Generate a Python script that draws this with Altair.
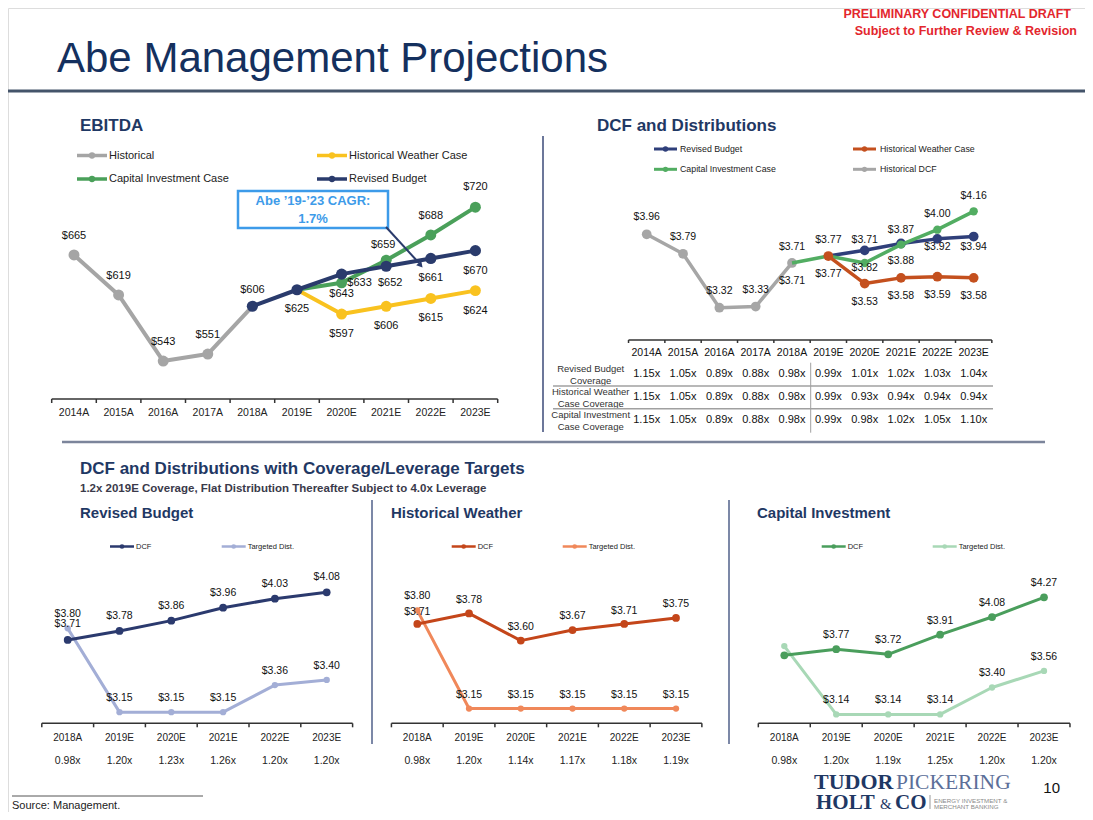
import altair as alt
import pandas as pd

# ---------------- values ----------------
years_long = ["2014A", "2015A", "2016A", "2017A", "2018A",
              "2019E", "2020E", "2021E", "2022E", "2023E"]
years_short = ["2018A", "2019E", "2020E", "2021E", "2022E", "2023E"]

# EBITDA ($mm)
ebitda_historical = [665, 619, 543, 551, 606]          # 2014A-2018A
ebitda_revised = [606, 625, 643, 652, 661, 670]        # 2018A-2023E
ebitda_weather = [625, 597, 606, 615, 624]             # 2019E-2023E
ebitda_capital = [625, 633, 659, 688, 720]             # 2019E-2023E
cagr_lines = ["Abe \u201919-\u201923 CAGR:", "1.7%"]

# DCF per unit
dcf_historical = [3.96, 3.79, 3.32, 3.33, 3.71]        # 2014A-2018A
dcf_revised = [3.77, 3.82, 3.88, 3.92, 3.94]           # 2019E-2023E
dcf_weather = [3.77, 3.53, 3.58, 3.59, 3.58]           # 2019E-2023E
dcf_capital = [3.71, 3.77, 3.71, 3.87, 4.00, 4.16]     # 2018A-2023E
# data labels exactly as printed on the slide
dcf_historical_lbl = ["$3.96", "$3.79", "$3.32", "$3.33", "$3.71"]
dcf_revised_lbl = ["$3.77", "$3.71", "$3.87", "$3.92", "$3.94"]
dcf_weather_lbl = ["", "$3.53", "$3.58", "$3.59", "$3.58"]
dcf_capital_lbl = ["$3.71", "$3.77", "$3.82", "$3.88", "$4.00", "$4.16"]

cov_revised = ["1.15x", "1.05x", "0.89x", "0.88x", "0.98x", "0.99x", "1.01x", "1.02x", "1.03x", "1.04x"]
cov_weather = ["1.15x", "1.05x", "0.89x", "0.88x", "0.98x", "0.99x", "0.93x", "0.94x", "0.94x", "0.94x"]
cov_capital = ["1.15x", "1.05x", "0.89x", "0.88x", "0.98x", "0.99x", "0.98x", "1.02x", "1.05x", "1.10x"]
cov_row_names = [["Revised Budget", "Coverage"],
                 ["Historical Weather", "Case Coverage"],
                 ["Capital Investment", "Case Coverage"]]

# Coverage / leverage target panels (2018A-2023E)
rb_dcf = [3.71, 3.78, 3.86, 3.96, 4.03, 4.08]
rb_dist = [3.80, 3.15, 3.15, 3.15, 3.36, 3.40]
rb_cov = ["0.98x", "1.20x", "1.23x", "1.26x", "1.20x", "1.20x"]
hw_dcf = [3.71, 3.78, 3.60, 3.67, 3.71, 3.75]
hw_dist = [3.80, 3.15, 3.15, 3.15, 3.15, 3.15]
hw_cov = ["0.98x", "1.20x", "1.14x", "1.17x", "1.18x", "1.19x"]
ci_dcf = [3.71, 3.77, 3.72, 3.91, 4.08, 4.27]
ci_dist = [3.80, 3.14, 3.14, 3.14, 3.40, 3.56]
ci_cov = ["0.98x", "1.20x", "1.19x", "1.25x", "1.20x", "1.20x"]

# ---------------- layout helpers ----------------
OFF = 8.0
FONT = "Liberation Sans"
NAVY_T = "#1f3864"
ONE = pd.DataFrame({"k": [0]})
L = []


def P(v):
    return v - OFF


def xscale(first, step, n):
    return alt.Scale(domain=[-0.5, n - 0.5],
                     range=[P(first - step / 2), P(first + step * (n - 1) + step / 2)],
                     zero=False, nice=False)


def yscale(d0, d1, y0, y1):
    return alt.Scale(domain=[d0, d1], range=[P(y0), P(y1)], zero=False, nice=False)


def text(s, x, y, size=11, color="#111", weight="normal", align="left",
         font=FONT, baseline="middle"):
    L.append(alt.Chart(ONE).mark_text(text=s, fontSize=size, color=color, fontWeight=weight,
                                      align=align, baseline=baseline, font=font)
             .encode(x=alt.value(P(x)), y=alt.value(P(y))))


def hline(x0, x1, y, color, w):
    L.append(alt.Chart(ONE).mark_rule(color=color, strokeWidth=w)
             .encode(x=alt.value(P(x0)), x2=alt.value(P(x1)), y=alt.value(P(y))))


def vline(x, y0, y1, color, w):
    L.append(alt.Chart(ONE).mark_rule(color=color, strokeWidth=w)
             .encode(x=alt.value(P(x)), y=alt.value(P(y0)), y2=alt.value(P(y1))))


def series(start, vals, xs, ys, color, sw, psize, pts=None):
    df = pd.DataFrame({"i": list(range(start, start + len(vals))), "v": vals})
    X = alt.X("i:Q", scale=xs, axis=None)
    Y = alt.Y("v:Q", scale=ys, axis=None)
    L.append(alt.Chart(df).mark_line(color=color, strokeWidth=sw, strokeJoin="round")
             .encode(x=X, y=Y))
    if psize:
        dp = df if pts is None else df[df["i"].isin(pts)]
        L.append(alt.Chart(dp).mark_circle(color=color, size=psize, opacity=1)
                 .encode(x=X, y=Y))


def labels(start, vals, texts, xs, ys, dys, dxs=None, size=11, color="#111"):
    n = len(vals)
    dxs = dxs if dxs else [0] * n
    groups = {}
    for k in range(n):
        if texts[k] == "":
            continue
        groups.setdefault((dxs[k], dys[k]), []).append((start + k, vals[k], texts[k]))
    for (ox, oy), rows in groups.items():
        df = pd.DataFrame({"i": [r[0] for r in rows], "v": [r[1] for r in rows],
                           "t": [r[2] for r in rows]})
        L.append(alt.Chart(df).mark_text(fontSize=size, color=color, font=FONT,
                                         align="center", baseline="middle", dx=ox, dy=oy)
                 .encode(x=alt.X("i:Q", scale=xs, axis=None),
                         y=alt.Y("v:Q", scale=ys, axis=None),
                         text="t:N"))


def row_text(names, xs, y, size, color="#111", weight="normal"):
    df = pd.DataFrame({"i": list(range(len(names))), "t": names})
    L.append(alt.Chart(df).mark_text(fontSize=size, color=color, font=FONT, fontWeight=weight,
                                     align="center", baseline="middle")
             .encode(x=alt.X("i:Q", scale=xs, axis=None), y=alt.value(P(y)), text="t:N"))


def xaxis(xs, n, y, tick, color="#333", w=1.5):
    df = pd.DataFrame({"a": [-0.5], "b": [n - 0.5]})
    L.append(alt.Chart(df).mark_rule(color=color, strokeWidth=w)
             .encode(x=alt.X("a:Q", scale=xs, axis=None), x2="b:Q", y=alt.value(P(y))))
    dt = pd.DataFrame({"b": [k - 0.5 for k in range(n + 1)]})
    L.append(alt.Chart(dt).mark_rule(color=color, strokeWidth=w)
             .encode(x=alt.X("b:Q", scale=xs, axis=None),
                     y=alt.value(P(y)), y2=alt.value(P(y + tick))))


def legend_item(x0, x1, y, color, label, lw, psize, fsize, tx):
    hline(x0, x1, y, color, lw)
    L.append(alt.Chart(ONE).mark_circle(color=color, size=psize, opacity=1)
             .encode(x=alt.value(P((x0 + x1) / 2)), y=alt.value(P(y))))
    text(label, tx, y, size=fsize, color="#222")


# ---------------- header ----------------
text("PRELIMINARY CONFIDENTIAL DRAFT", 1071, 14, size=12.5, color="#e3262d", weight="bold", align="right")
text("Subject to Further Review & Revision", 1077, 31, size=12.5, color="#e3262d", weight="bold", align="right")
text("Abe Management Projections", 57, 72, size=42, color="#14305e", baseline="alphabetic")
hline(8, 1093, 91, "#44546a", 3)

text("EBITDA", 80, 126, size=17, color=NAVY_T, weight="bold")
text("DCF and Distributions", 597, 126, size=17, color=NAVY_T, weight="bold")
vline(543, 136, 432, "#3b4a78", 1.5)

# ---------------- EBITDA chart ----------------
C_GREY, C_YEL, C_GRN, C_NAVY = "#a5a5a5", "#f9c21f", "#4aa05a", "#2a3b6c"
ex = xscale(74.0, 44.6, 10)
ey = yscale(500, 750, 398.4, 181.1)

legend_item(77, 107, 155.5, C_GREY, "Historical", 3.5, 40, 11, 109)
legend_item(317, 347, 155.5, C_YEL, "Historical Weather Case", 3.5, 40, 11, 349)
legend_item(77, 107, 179, C_GRN, "Capital Investment Case", 3.5, 40, 11, 109)
legend_item(317, 347, 179, C_NAVY, "Revised Budget", 3.5, 40, 11, 349)

series(0, ebitda_historical, ex, ey, C_GREY, 4, 120, pts=[0, 1, 2, 3])
series(5, ebitda_weather, ex, ey, C_YEL, 4, 120, pts=[6, 7, 8, 9])
series(5, ebitda_capital, ex, ey, C_GRN, 4, 120, pts=[6, 7, 8, 9])
series(4, ebitda_revised, ex, ey, C_NAVY, 4, 125)

money = lambda vs: ["$%d" % v for v in vs]
labels(0, ebitda_historical[:4], money(ebitda_historical[:4]), ex, ey, [-19] * 4, size=11)
labels(4, ebitda_revised, money(ebitda_revised), ex, ey,
       [-16, 19, 20, 17, 20, 20], [0, 0, 0, 4, 0, 0], size=11)
labels(6, ebitda_capital[1:], money(ebitda_capital[1:]), ex, ey,
       [0, -15, -19, -20], [18, -3, 0, 0], size=11)
labels(6, ebitda_weather[1:], money(ebitda_weather[1:]), ex, ey, [20] * 4, size=11)

xaxis(ex, 10, 399, 4)
row_text(years_long, ex, 413, 10.5, color="#222")

# CAGR call-out
L.append(alt.Chart(ONE).mark_rect(fill="white", stroke="#3d9be9", strokeWidth=2.5)
         .encode(x=alt.value(P(238)), x2=alt.value(P(388)), y=alt.value(P(191)), y2=alt.value(P(228))))
text(cagr_lines[0], 313, 201, size=13, color="#3d9be9", weight="bold", align="center")
text(cagr_lines[1], 313, 218.5, size=13, color="#3d9be9", weight="bold", align="center")
L.append(alt.Chart(ONE).mark_rule(color=C_NAVY, strokeWidth=2)
         .encode(x=alt.value(P(386)), y=alt.value(P(227)), x2=alt.value(P(419)), y2=alt.value(P(263))))
L.append(alt.Chart(ONE).mark_point(shape="triangle", angle=139, filled=True, size=45,
                                   color=C_NAVY, opacity=1)
         .encode(x=alt.value(P(420)), y=alt.value(P(264.5))))

# ---------------- DCF and Distributions chart ----------------
D_NAVY, D_ORG, D_GRN, D_GREY = "#2f3f7a", "#c4501e", "#52ad62", "#a6a6a6"
dx_ = xscale(646.7, 36.33, 10)
dy_ = yscale(3.0, 4.4, 344.4, 183.8)

legend_item(654, 677, 149, D_NAVY, "Revised Budget", 3, 28, 8.8, 680)
legend_item(853, 876, 149, D_ORG, "Historical Weather Case", 3, 28, 8.8, 880)
legend_item(654, 677, 169.3, D_GRN, "Capital Investment Case", 3, 28, 8.8, 680)
legend_item(853, 876, 169.3, D_GREY, "Historical DCF", 3, 28, 8.8, 880)

series(0, dcf_historical, dx_, dy_, D_GREY, 3.5, 95)
series(5, dcf_revised, dx_, dy_, D_NAVY, 3.5, 95, pts=[6, 7, 8, 9])
series(4, dcf_capital, dx_, dy_, D_GRN, 3.5, 70, pts=[6, 7, 8, 9])
series(5, dcf_weather, dx_, dy_, D_ORG, 3.5, 95)

labels(0, dcf_historical, dcf_historical_lbl, dx_, dy_, [-17, -17, -17, -17, -16], size=10.5)
labels(5, dcf_revised, dcf_revised_lbl, dx_, dy_, [-16, -10, -13, 8, 10], size=10.5)
labels(4, dcf_capital, dcf_capital_lbl, dx_, dy_, [18, 18, 5, 16, -16, -15], size=10.5)
labels(5, dcf_weather, dcf_weather_lbl, dx_, dy_, [0, 18, 18, 18, 18], size=10.5)

xaxis(dx_, 10, 340, 3)
row_text(years_long, dx_, 353.3, 10.5, color="#111")

# coverage table
for names, vals, yv in zip(cov_row_names, [cov_revised, cov_weather, cov_capital],
                           [374.3, 397.3, 420.3]):
    text(names[0], 590.7, yv - 5.5, size=9.5, color="#333", align="center")
    text(names[1], 590.7, yv + 6.2, size=9.5, color="#333", align="center")
    row_text(vals, dx_, yv, 11, color="#111")
hline(553, 993, 386, "#a0a0a0", 1.5)
hline(553, 993, 408.7, "#a0a0a0", 1.5)
vline(810.7, 362.7, 432.7, "#a0a0a0", 1)

hline(62, 1045, 442, "#7c859b", 2.5)

# ---------------- coverage / leverage target panels ----------------
text("DCF and Distributions with Coverage/Leverage Targets", 80, 469, size=17, color=NAVY_T, weight="bold")
text("1.2x 2019E Coverage, Flat Distribution Thereafter Subject to 4.0x Leverage", 80, 489,
     size=11.5, color="#3a3a4a", weight="bold")
text("Revised Budget", 80, 513, size=15, color=NAVY_T, weight="bold")
text("Historical Weather", 391, 513, size=15, color=NAVY_T, weight="bold")
text("Capital Investment", 757, 513, size=15, color=NAVY_T, weight="bold")
vline(372, 500, 744, "#50608a", 1.5)
vline(729, 500, 744, "#50608a", 1.5)


def panel(xs, ys, dcf, dist, cov, c1, c2, leg, dcf_dy, show_first):
    a0, b0 = leg
    ly = 546.5
    legend_item(a0, a0 + 24, ly, c1, "DCF", 2.5, 22, 7.5, a0 + 26)
    legend_item(b0, b0 + 24, ly, c2, "Targeted Dist.", 2.5, 22, 7.5, b0 + 26)
    series(0, dist, xs, ys, c2, 3, 40)
    series(0, dcf, xs, ys, c1, 3, 60)
    fmt = ["$%.2f" % v for v in dcf]
    fmt2 = ["$%.2f" % v for v in dist]
    if not show_first:
        fmt[0] = ""
        fmt2[0] = ""
    labels(0, dcf, fmt, xs, ys, dcf_dy, size=10.5)
    labels(0, dist, fmt2, xs, ys, [-14] * 6, size=10.5)
    xaxis(xs, 6, 723.3, 4)
    row_text(years_short, xs, 738.3, 10, color="#222")
    row_text(cov, xs, 760.7, 10.5, color="#222")


panel(xscale(67.7, 51.8, 6), yscale(3.0, 4.2, 731.5, 576.8), rb_dcf, rb_dist, rb_cov,
      "#2b3a6e", "#a3aed6", (110, 221.7), [-16, -15, -15, -15, -15, -15], True)
panel(xscale(417.3, 51.74, 6), yscale(3.0, 4.2, 731.2, 550.0), hw_dcf, hw_dist, hw_cov,
      "#c4461a", "#f0885a", (451.7, 562.7), [-12, -13, -14, -14, -13, -14], True)
panel(xscale(784.3, 51.94, 6), yscale(3.0, 4.4, 728.9, 583.9), ci_dcf, ci_dist, ci_cov,
      "#4a9e5c", "#a8d8b6", (821.7, 932.7), [-14] * 6, False)

# ---------------- footer ----------------
hline(12, 203, 796, "#555555", 1)
text("Source: Management.", 12, 806, size=11, color="#222")
SERIF = "Liberation Serif"
text("TUDOR", 814, 788.5, size=22, color="#1f3864", weight="bold", font=SERIF, baseline="alphabetic")
text("PICKERING", 896, 788.5, size=21.5, color="#5c6f99", font=SERIF, baseline="alphabetic")
text("HOLT", 816, 808.5, size=21, color="#1f3864", weight="bold", font=SERIF, baseline="alphabetic")
text("&", 880, 808.5, size=15, color="#1f3864", font=SERIF, baseline="alphabetic")
text("CO", 895, 808.5, size=21, color="#1f3864", weight="bold", font=SERIF, baseline="alphabetic")
vline(930, 795, 809, "#999999", 1)
text("ENERGY INVESTMENT &", 934, 800.5, size=6.2, color="#8a8a8a")
text("MERCHANT BANKING", 934, 807, size=6.2, color="#8a8a8a")
text("10", 1051.7, 788.3, size=15, color="#111", align="center")

chart = (alt.layer(*L)
         .resolve_scale(x="independent", y="independent")
         .properties(width=1077, height=804, padding=0,
                     autosize=alt.AutoSizeParams(type="none"))
         .configure_view(stroke=None)
         .configure(background="white"))

chart.save("out.html", embed_options={"renderer": "svg", "actions": False})
